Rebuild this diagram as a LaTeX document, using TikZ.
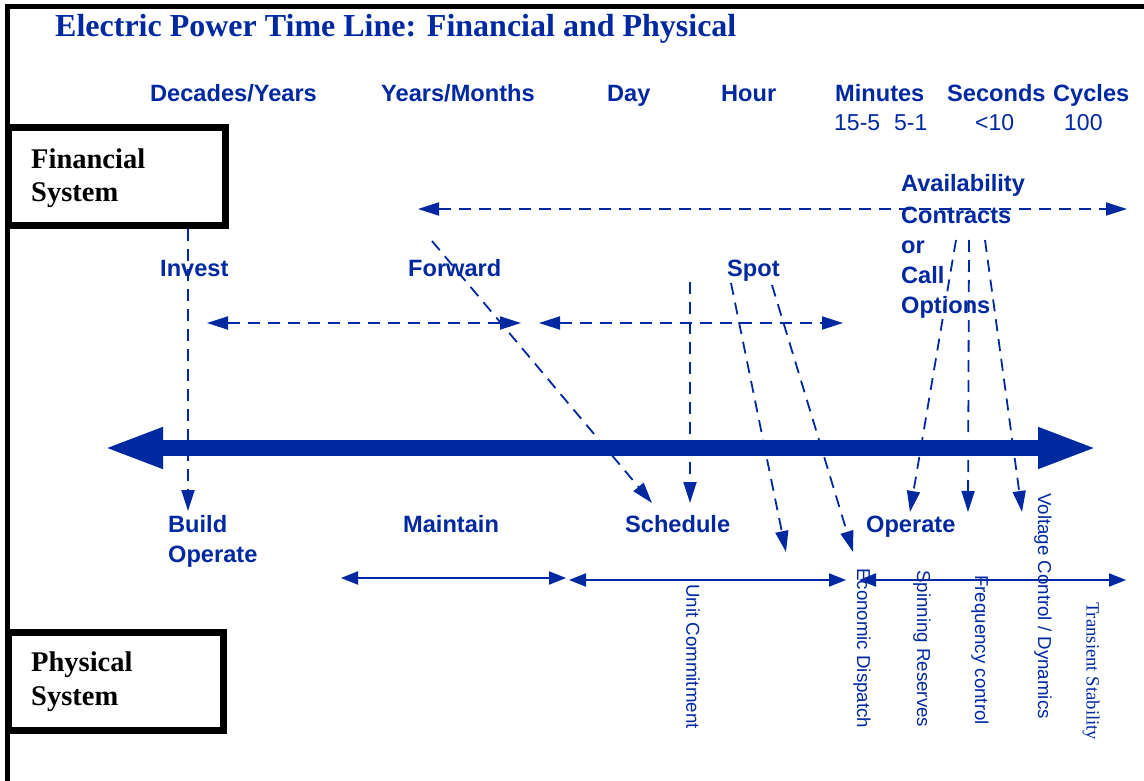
\documentclass[tikz,border=0pt]{standalone}
\usepackage{fontspec}
\setmainfont{Liberation Serif}
\newfontfamily\arialf{Liberation Sans}
\newfontfamily\timesf{Liberation Serif}
\usetikzlibrary{arrows.meta}
\definecolor{tlblue}{RGB}{0,40,160}
\tikzset{
  lbl/.style={anchor=base west, inner sep=0pt, text=tlblue, font=\arialf\bfseries\fontsize{23.6}{27}\selectfont},
  numlbl/.style={anchor=base west, inner sep=0pt, text=tlblue, font=\arialf\fontsize{23}{27}\selectfont},
  syslbl/.style={anchor=base west, inner sep=0pt, text=black, font=\timesf\bfseries\fontsize{28.5}{32}\selectfont},
  vlbl/.style={anchor=west, inner sep=0pt, rotate=-90, text=tlblue, font=\arialf\fontsize{18.7}{22}\selectfont},
  vlblserif/.style={anchor=west, inner sep=0pt, rotate=-90, text=tlblue, font=\timesf\fontsize{18.7}{22}\selectfont},
  sysbox/.style={draw=black, line width=7pt, inner sep=0pt},
  dasharrow/.style={draw=tlblue, line width=1.8pt, dash pattern=on 12pt off 8pt, -{Triangle[length=21pt,width=13pt]}},
  dashboth/.style={draw=tlblue, line width=1.8pt, dash pattern=on 12pt off 8pt, {Triangle[length=21pt,width=13pt]}-{Triangle[length=21pt,width=13pt]}},
  solidboth/.style={draw=tlblue, line width=2pt, {Triangle[length=17pt,width=13pt]}-{Triangle[length=17pt,width=13pt]}},
  bigarrow/.style={draw=tlblue, line width=16pt, {Triangle[length=60pt,width=37pt]}-{Triangle[length=60pt,width=37pt]}}
}
\begin{document}
\begin{tikzpicture}[x=1pt,y=-1pt]
\useasboundingbox (0,0) rectangle (1144,781);
% frame
\draw[line width=5pt] (7,781) -- (7,7) -- (1144,7);
% system boxes
\node[sysbox, minimum width=217pt, minimum height=97pt] (finbox) at (116.5,176.5) {};
\node[sysbox, minimum width=215pt, minimum height=98pt] (phybox) at (115.5,681) {};
\node[syslbl] (fin1) at (31,168) {Financial};
\node[syslbl] (fin2) at (31,202) {System};
\node[syslbl] (phy1) at (31,671) {Physical};
\node[syslbl] (phy2) at (31,705) {System};
% title
\node[anchor=base west, inner sep=0pt, text=tlblue, font=\timesf\bfseries\fontsize{32}{36}\selectfont] (title) at (55,37) {Electric Power Time Line: Financial and Physical};
% header
\node[lbl] (h1) at (150,102) {Decades/Years};
\node[lbl] (h2) at (381,102) {Years/Months};
\node[lbl] (h3) at (607,102) {Day};
\node[lbl] (h4) at (721,102) {Hour};
\node[lbl] (h5) at (835,102) {Minutes};
\node[lbl] (h6) at (947,102) {Seconds};
\node[lbl] (h7) at (1053,102) {Cycles};
\node[numlbl] (n1) at (834,131) {15-5};
\node[numlbl] (n2) at (894,131) {5-1};
\node[numlbl] (n3) at (975,131) {<10};
\node[numlbl] (n4) at (1064,131) {100};
% financial labels
\node[lbl] (invest) at (160,276) {Invest};
\node[lbl] (forward) at (408,276) {Forward};
\node[lbl] (spot) at (727,276) {Spot};
\node[lbl] (av1) at (901,192) {Availability};
\node[lbl] (av2) at (901,223) {Contracts};
\node[lbl] (av3) at (901,253) {or};
\node[lbl] (av4) at (901,283) {Call};
\node[lbl] (av5) at (901,313) {Options};
% physical labels
\node[lbl] (build) at (168,532) {Build};
\node[lbl] (buildop) at (168,562) {Operate};
\node[lbl] (maintain) at (403,532) {Maintain};
\node[lbl] (schedule) at (625,532) {Schedule};
\node[lbl] (operate) at (866,532) {Operate};
% rotated labels
\node[vlbl] (uc) at (693,584) {Unit Commitment};
\node[vlbl] (ed) at (862,568) {Economic Dispatch};
\node[vlbl] (sr) at (922,570) {Spinning Reserves};
\node[vlbl] (fc) at (980,575) {Frequency control};
\node[vlbl] (vc) at (1043,493) {Voltage Control / Dynamics};
\node[vlblserif] (ts) at (1091,602) {Transient Stability};
% coordinates
\coordinate (invA) at (188,229); \coordinate (invB) at (188,511);
\coordinate (fwdA) at (432,241); \coordinate (fwdB) at (652,503);
\coordinate (schA) at (690,282); \coordinate (schB) at (690,503);
\coordinate (sp1A) at (731,283); \coordinate (sp1B) at (786,552);
\coordinate (sp2A) at (772,285); \coordinate (sp2B) at (853,552);
\coordinate (avAa) at (956,240); \coordinate (avAb) at (910,512);
\coordinate (avBa) at (969,240); \coordinate (avBb) at (968,512);
\coordinate (avCa) at (985,240); \coordinate (avCb) at (1022,512);
\coordinate (topL) at (418,209); \coordinate (topR) at (1127,209);
\coordinate (m1L) at (207,323); \coordinate (m1R) at (521,323);
\coordinate (m2L) at (539,323); \coordinate (m2R) at (843,323);
\coordinate (s1L) at (341,578); \coordinate (s1R) at (566,578);
\coordinate (s2L) at (569,580); \coordinate (s2R) at (846,580);
\coordinate (s3L) at (859,580); \coordinate (s3R) at (1126,580);
\coordinate (bigL) at (103,448); \coordinate (bigR) at (1098,448);
% big arrow
\draw[bigarrow] (bigL) -- (bigR);
% dashed arrows
\draw[dasharrow] (invA) -- (invB);
\draw[dasharrow] (fwdA) -- (fwdB);
\draw[dasharrow] (schA) -- (schB);
\draw[dasharrow] (sp1A) -- (sp1B);
\draw[dasharrow] (sp2A) -- (sp2B);
\draw[dasharrow] (avAa) -- (avAb);
\draw[dasharrow] (avBa) -- (avBb);
\draw[dasharrow] (avCa) -- (avCb);
\draw[dashboth] (topL) -- (topR);
\draw[dashboth] (m1L) -- (m1R);
\draw[dashboth] (m2L) -- (m2R);
% solid arrows
\draw[solidboth] (s1L) -- (s1R);
\draw[solidboth] (s2L) -- (s2R);
\draw[solidboth] (s3L) -- (s3R);
\end{tikzpicture}
\end{document}
